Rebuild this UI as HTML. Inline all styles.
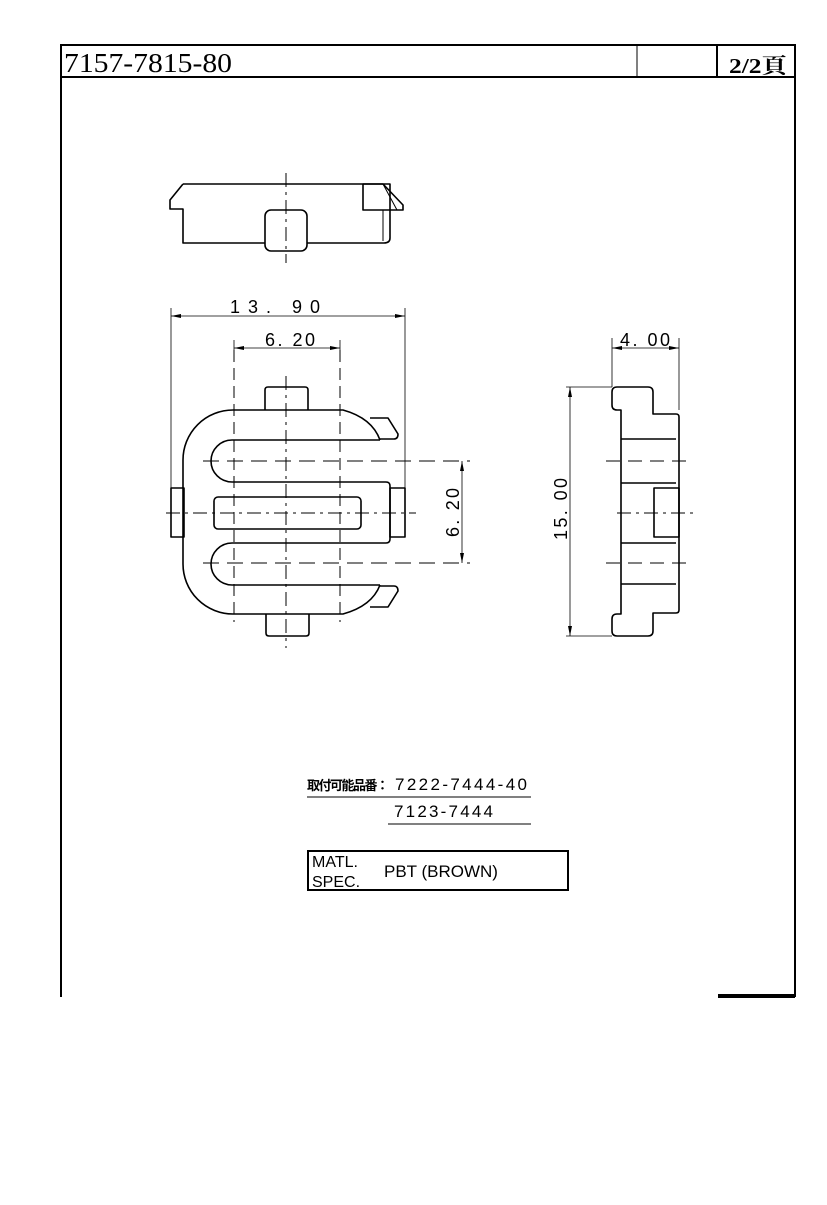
<!DOCTYPE html>
<html><head><meta charset="utf-8"><style>
body{margin:0;background:#fff;}
svg{display:block;}
text{font-family:"Liberation Sans","Noto Sans CJK JP",sans-serif;fill:#000;}
</style></head><body>
<svg width="827" height="1205" viewBox="0 0 827 1205" xmlns="http://www.w3.org/2000/svg">
<g fill="none" stroke="#000">
<path d="M61 997 V45 H795 V997" stroke-width="2"/>
<line x1="61" y1="77" x2="795" y2="77" stroke-width="2"/>
<line x1="637" y1="45" x2="637" y2="77" stroke-width="1"/>
<line x1="717" y1="45" x2="717" y2="77" stroke-width="2"/>
<line x1="718" y1="996" x2="795" y2="996" stroke-width="4"/>
</g>
<text x="64" y="72" font-size="27" textLength="168" lengthAdjust="spacingAndGlyphs" style="font-family:'Liberation Serif',serif">7157-7815-80</text>
<text x="729" y="73" font-size="21" font-weight="bold" textLength="58" lengthAdjust="spacingAndGlyphs" style="font-family:'Liberation Serif','Noto Serif CJK SC',serif">2/2頁</text>

<g fill="none" stroke="#000" stroke-width="1.6" stroke-linejoin="round">
<path d="M183 184 H383 L403 205 V210 H390 V238 Q390 243 384 243 H307"/>
<path d="M183 184 L170 200 V209 H183 V243 H265"/>
<rect x="265" y="210" width="42" height="41" rx="6"/>
<rect x="363" y="184" width="27" height="26"/>
<line x1="383" y1="184" x2="397" y2="210" stroke-width="1"/>
<line x1="383" y1="210" x2="383" y2="241" stroke-width="1"/>
<path d="M380 440 H232 A21 21 0 0 0 232 482 H386 Q390 482 390 486 V539 Q390 543 386 543 H232 A21 21 0 0 0 232 585 H380"/>
<path d="M380 440 Q372 418 343 410 H233 A50 50 0 0 0 183 460 V564 A50 50 0 0 0 233 614 H343 Q372 606 380 585"/>
<path d="M370 418 H388 L398 434 Q398 439 394 439 H380"/>
<path d="M370 607 H388 L398 591 Q398 586 394 586 H380"/>
<rect x="214" y="497" width="147" height="32" rx="4"/>
<rect x="390" y="488" width="15" height="49"/>
<rect x="171" y="488" width="13" height="49"/>
<path d="M265 410 V390 Q265 387 268 387 H305 Q308 387 308 390 V410"/>
<path d="M266 614 V633 Q266 636 269 636 H306 Q309 636 309 633 V614"/>
<path d="M653 410 V392 Q653 387 648 387 H617 Q612 387 612 392 V405 Q612 410 617 410 H621 V614 H617 Q612 614 612 619 V631 Q612 636 617 636 H648 Q653 636 653 631 V614"/>
<path d="M653 410 V414 H676 Q679 414 679 417 V610 Q679 613 676 613 H653 V614"/>
<path d="M621 439 H676 M621 483 H676 M621 543 H676 M621 584 H676"/>
<rect x="654" y="488" width="25" height="49"/>
</g>

<g stroke="#000" stroke-width="1" fill="none" stroke-dasharray="14 5 3 5">
<line x1="286" y1="173" x2="286" y2="263"/>
<line x1="286" y1="376" x2="286" y2="648"/>
<line x1="234" y1="350" x2="234" y2="622" stroke-dasharray="12 6"/>
<line x1="340" y1="350" x2="340" y2="622" stroke-dasharray="12 6"/>
<line x1="203" y1="461" x2="470" y2="461" stroke-dasharray="16 8"/>
<line x1="166" y1="513" x2="416" y2="513"/>
<line x1="203" y1="563" x2="470" y2="563" stroke-dasharray="16 8"/>
<line x1="606" y1="461" x2="690" y2="461" stroke-dasharray="14 8"/>
<line x1="617" y1="513" x2="697" y2="513"/>
<line x1="606" y1="563" x2="690" y2="563" stroke-dasharray="14 8"/>
</g>

<g stroke="#000" stroke-width="0.8" fill="none">
<line x1="171" y1="308" x2="171" y2="488"/>
<line x1="405" y1="308" x2="405" y2="488"/>
<line x1="171" y1="316" x2="405" y2="316"/>
<line x1="234" y1="340" x2="234" y2="360"/>
<line x1="340" y1="340" x2="340" y2="360"/>
<line x1="234" y1="348" x2="340" y2="348"/>
<line x1="462" y1="461" x2="462" y2="563"/>
<line x1="612" y1="338" x2="612" y2="387"/>
<line x1="679" y1="338" x2="679" y2="410"/>
<line x1="612" y1="348" x2="679" y2="348"/>
<line x1="566" y1="387" x2="612" y2="387"/>
<line x1="566" y1="636" x2="612" y2="636"/>
<line x1="570" y1="387" x2="570" y2="636"/>
</g>
<g fill="#000">
<path d="M171 316 l10 -2 v4z M405 316 l-10 -2 v4z"/>
<path d="M234 348 l10 -2 v4z M340 348 l-10 -2 v4z"/>
<path d="M462 461 l-2 10 h4z M462 563 l-2 -10 h4z"/>
<path d="M612 348 l10 -2 v4z M679 348 l-10 -2 v4z"/>
<path d="M570 387 l-2 10 h4z M570 636 l-2 -10 h4z"/>
</g>
<g font-size="18" lengthAdjust="spacing">
<text x="230" y="313" textLength="90" lengthAdjust="spacing">13. 90</text>
<text x="265" y="346" textLength="50" lengthAdjust="spacing">6. 20</text>
<text x="620" y="346" textLength="50" lengthAdjust="spacing">4. 00</text>
<text transform="translate(459,537) rotate(-90)" textLength="49" lengthAdjust="spacing">6. 20</text>
<text transform="translate(567,540) rotate(-90)" textLength="62" lengthAdjust="spacing">15. 00</text>
</g>

<text x="307" y="790" font-size="13" font-weight="bold" style="font-family:'Noto Sans CJK JP',sans-serif" letter-spacing="-1.5">取付可能品番：</text>
<text x="395" y="790" font-size="17" textLength="132" lengthAdjust="spacing">7222-7444-40</text>
<line x1="307" y1="797" x2="531" y2="797" stroke="#000" stroke-width="1"/>
<text x="394" y="817" font-size="17" textLength="99" lengthAdjust="spacing">7123-7444</text>
<line x1="388" y1="824" x2="531" y2="824" stroke="#000" stroke-width="1"/>
<rect x="308" y="851" width="260" height="39" fill="none" stroke="#000" stroke-width="2"/>
<text x="312" y="867" font-size="16">MATL.</text>
<text x="312" y="887" font-size="16">SPEC.</text>
<text x="384" y="877" font-size="17">PBT (BROWN)</text>
</svg>
</body></html>
